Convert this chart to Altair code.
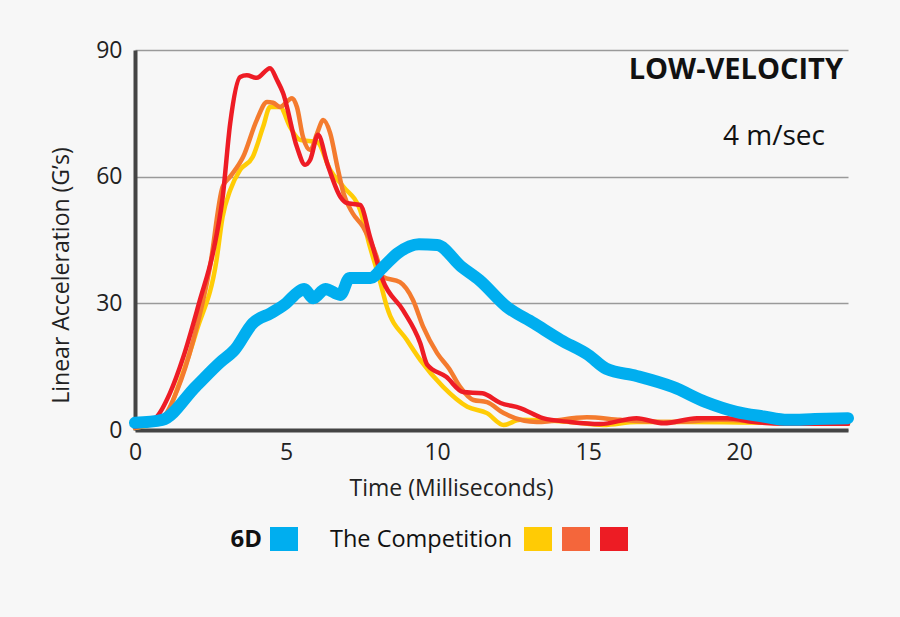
import altair as alt
import pandas as pd

# ---- data ----
blue_x = [0, 0.9, 2.0, 2.8, 3.3, 3.9, 4.5, 5.0, 5.4, 5.6, 5.9, 6.3, 6.8, 7.1, 7.8, 8.2, 8.7, 9.4, 10.0,
          10.8, 11.4, 12.3, 13.2, 14.1, 15.0, 15.6, 16.6, 17.8, 18.9, 19.9, 20.8, 21.6, 22.5, 23.6]
blue_y = [1.7, 2.4, 10.2, 15.9, 19, 25.3, 27.7, 30, 32.7, 33.4, 31.2, 33.4, 32, 36, 36, 38.5, 41.9, 44, 43.8,
          38.7, 35.5, 29.2, 25.3, 21.3, 17.8, 14.5, 12.8, 10.2, 6.6, 4.3, 3.2, 2.4, 2.6, 2.8]

red_x = [0, 0.7, 1.16, 1.6, 2.15, 2.6, 2.9, 3.15, 3.48, 3.7, 4.03, 4.47, 4.7, 4.9, 5.36, 5.63, 5.8, 6.06,
         6.36, 6.8, 7.0, 7.45, 7.78, 8.2, 8.87, 9.44, 9.67, 10.3, 10.86, 11.5, 12.1, 12.75, 13.5, 14.4,
         15.4, 16.6, 17.5, 18.6, 19.6, 20.5, 21.5, 23.6]
red_y = [0.7, 3, 8.8, 17.3, 30.8, 42.6, 55, 72.6, 83.6, 84, 83.4, 85.7, 82.9, 79.8, 67, 62.8, 64, 69.9,
         63.2, 55.2, 53.8, 53.3, 45.7, 35.5, 28.4, 20.6, 15.5, 12.6, 9, 8.7, 6.4, 5.2, 2.8, 1.9,
         1.4, 2.8, 1.6, 2.8, 2.8, 1.9, 1.5, 1.5]

orange_x = [0, 0.93, 1.4, 1.93, 2.48, 2.9, 3.15, 3.58, 4.03, 4.37, 4.57, 4.8, 5.2, 5.36, 5.56, 5.8, 6.03,
            6.23, 6.46, 6.7, 6.9, 7.2, 7.55, 8.0, 8.2, 8.77, 9.2, 9.54, 10.0, 10.4, 10.76, 11.2, 11.65,
            12.2, 13.3, 14.96, 16.06, 17.7, 19.4, 21.0, 23.6]
orange_y = [0.5, 3, 9.5, 21.3, 38.6, 57.6, 60, 64.7, 73.4, 77.7, 77.5, 76.5, 78.6, 76.5, 69.4, 66.3, 70.3,
            73.4, 70.3, 62.3, 56.1, 51.4, 48.1, 41, 36.3, 35, 30.8, 24.4, 18.2, 14.5, 10.2, 7.1, 6.6,
            4, 1.9, 3, 2.4, 1.9, 2.4, 1.8, 1.5]

yellow_x = [0, 0.93, 1.5, 2.05, 2.7, 2.9, 3.15, 3.48, 3.9, 4.24, 4.47, 4.8, 5.13, 5.46, 6.03, 6.46, 6.9,
            7.45, 7.78, 8.1, 8.34, 9.0, 9.44, 10.2, 11.0, 11.65, 12.2, 12.75, 14.4, 15.5, 16.6, 18.3,
            20.0, 23.6]
yellow_y = [0.5, 2.4, 11.8, 23.7, 40.3, 50.5, 56.8, 61.6, 64.7, 71.8, 76.5, 76.5, 71.8, 68.7, 68.2, 61.6,
            57.6, 52.1, 43.3, 35.5, 29.1, 21.3, 16.6, 10.2, 5.5, 4, 1.2, 2.4, 1.9, 1.2, 1.9, 1.9,
            1.8, 1.5]

series_names = ["yellow", "orange", "red", "6D"]
series_colors = ["#ffcc05", "#f47b2e", "#ee1c25", "#00aeef"]
series_widths = [4.5, 4.5, 4.5, 12]

x_ticks = [0, 5, 10, 15, 20]
y_ticks = [0, 30, 60, 90]

frames = []
for name, xs, ys in [("yellow", yellow_x, yellow_y), ("orange", orange_x, orange_y),
                     ("red", red_x, red_y), ("6D", blue_x, blue_y)]:
    frames.append(pd.DataFrame({"series": name, "t": xs, "g": ys}))
df = pd.concat(frames, ignore_index=True)

FONT = "Open Sans"

xscale = alt.Scale(domain=[0, 23.6], nice=False, zero=False)
yscale = alt.Scale(domain=[0, 90], nice=False)

xaxis = alt.Axis(values=x_ticks, title="Time (Milliseconds)", grid=False, labelFlush=False,
                 labelPadding=11, titlePadding=13, titleX=316, titleAlign="center")
yaxis = alt.Axis(values=y_ticks, title="Linear Acceleration (G’s)", grid=True, labelFlush=False,
                 labelPadding=13, titlePadding=22, titleY=225, titleAlign="center")

layers = []
for name, col, w in zip(series_names, series_colors, series_widths):
    layers.append(
        alt.Chart(df).transform_filter(alt.datum.series == name)
        .mark_line(color=col, strokeWidth=w, strokeJoin="round", strokeCap="round",
                   interpolate="monotone")
        .encode(x=alt.X("t:Q", scale=xscale, axis=xaxis),
                y=alt.Y("g:Q", scale=yscale, axis=yaxis))
    )

one = pd.DataFrame({"k": [0]})

def label(text, x, y, size, weight="normal", align="left"):
    return alt.Chart(one).mark_text(text=text, font=FONT, fontSize=size, fontWeight=weight,
                                    align=align, baseline="middle", color="#111111").encode(
        x=alt.value(x), y=alt.value(y))

def swatch(x1, x2, col):
    return alt.Chart(one).mark_rect(color=col).encode(
        x=alt.value(x1), x2=alt.value(x2), y=alt.value(477), y2=alt.value(501))

layers += [
    label("LOW-VELOCITY", 708, 20, 29, "bold", "right"),
    label("4 m/sec", 690, 87, 28, "normal", "right"),
    label("6D", 127, 490, 24, "bold", "right"),
    swatch(135, 163, "#00aeef"),
    label("The Competition", 195, 490, 23.5, "normal", "left"),
    swatch(389, 417, "#ffcb05"),
    swatch(427, 455, "#f4663b"),
    swatch(465, 493, "#ed1c24"),
]

chart = alt.layer(*layers).properties(
    width=713, height=380,
    autosize=alt.AutoSizeParams(type="none"),
    padding={"left": 135, "top": 50, "right": 52, "bottom": 187},
    background="#f7f7f7",
).configure_view(strokeWidth=0).configure_axis(
    labelFont=FONT, titleFont=FONT, labelFontSize=23, titleFontSize=23,
    titleFontWeight="normal", labelColor="#222222", titleColor="#222222",
    domainWidth=4, domainColor="#444444", ticks=False,
    gridColor="#9a9a9a", gridWidth=1.5,
)

chart.save("out.html", embed_options={"renderer": "svg", "actions": False})
